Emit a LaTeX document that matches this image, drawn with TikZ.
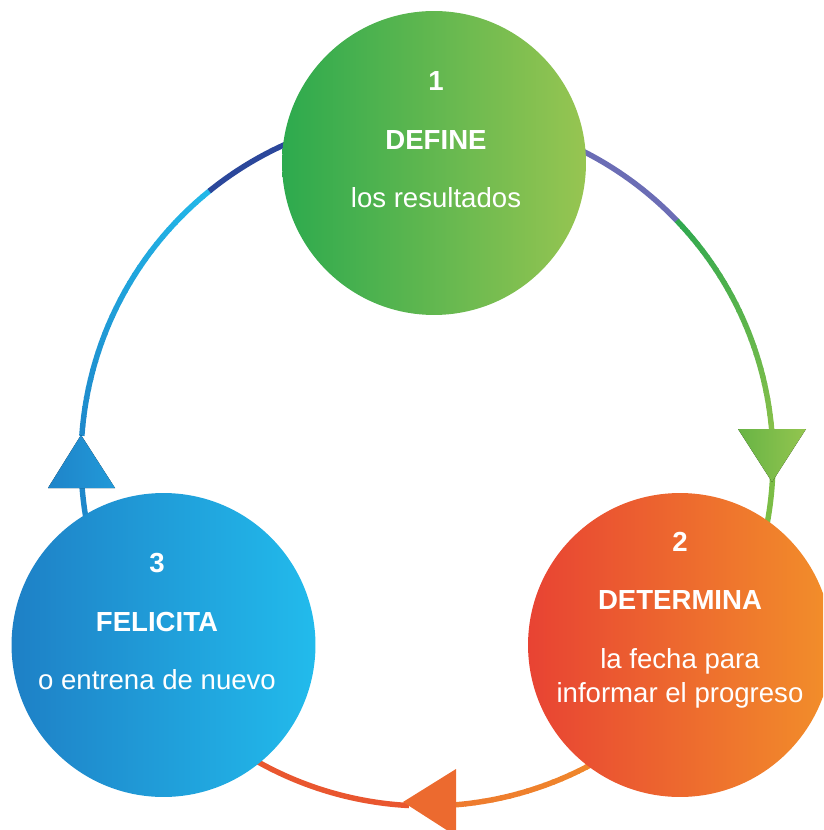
\documentclass[tikz,border=0pt]{standalone}
\usepackage{fontspec}
\setmainfont{Liberation Sans}

\definecolor{ringdark}{HTML}{2B479B}
\definecolor{ringpurple}{HTML}{6B6DB5}
\definecolor{ringgreenA}{HTML}{2FA84F}
\definecolor{ringgreenB}{HTML}{86C04A}
\definecolor{ringgreenC}{HTML}{7BBD45}
\definecolor{ringorangeA}{HTML}{F08A2A}
\definecolor{ringorangeB}{HTML}{EE7A2E}
\definecolor{ringred}{HTML}{E9562F}
\definecolor{ringblueA}{HTML}{1E88CB}
\definecolor{ringblueB}{HTML}{22B8E8}
\definecolor{tipgreenA}{HTML}{68B445}
\definecolor{tipgreenB}{HTML}{93C54F}
\definecolor{tipblueA}{HTML}{1E84C9}
\definecolor{tipblueB}{HTML}{2299D8}
\definecolor{tiporange}{HTML}{EC6A2F}
\definecolor{defineA}{HTML}{2DAA4E}
\definecolor{defineB}{HTML}{97C551}
\definecolor{determinaA}{HTML}{E84333}
\definecolor{determinaB}{HTML}{F28F2A}
\definecolor{felicitaA}{HTML}{1E80C6}
\definecolor{felicitaB}{HTML}{22BBEC}

\tikzset{
    ring/.style={line width=3.1pt, line cap=butt},
    stepcircle/.style={circle, minimum size=6.08cm, inner sep=0pt},
    stepnum/.style={text=white, anchor=base, font=\fontsize{15.7}{19}\selectfont\bfseries},
    steptitle/.style={text=white, anchor=base, font=\fontsize{15.7}{19}\selectfont\bfseries},
    steptext/.style={text=white, anchor=base, align=center, font=\fontsize{15.7}{19.3}\selectfont}
}

% arc piece of the ring, colour running from #3 to #4
\newcommand\ringpiece[5]{%
    \foreach \k in {1,...,#5}{
        \pgfmathsetmacro\angA{#1+(#2-#1)*(\k-1)/#5}
        \pgfmathsetmacro\angB{#1+(#2-#1)*\k/#5+0.2*sign(#2-#1)}
        \pgfmathsetmacro\mixp{100*(\k-0.5)/#5}
        \draw[ring, color=#4!\mixp!#3] (427,-460) ++(\angA:346) arc (\angA:\angB:346);
    }}

\begin{document}
\begin{tikzpicture}[x=0.02cm, y=0.02cm]
    \useasboundingbox (0,0) rectangle (823,-830);
    \clip (0,0) rectangle (823,-830);

    \draw[ring, ringpurple] (427,-460) ++(75:346) arc (75:43.7:346);
    \ringpiece{43.8}{5}{ringgreenA}{ringgreenB}{30}
    \draw[ring, ringgreenC] (427,-460) ++(-2:346) arc (-2:-25:346);
    \ringpiece{-55}{-85}{ringorangeA}{ringorangeB}{20}
    \draw[ring, ringred] (427,-460) ++(-93:346) arc (-93:-125:346);
    \draw[ring, ringblueA] (427,-460) ++(200:346) arc (200:184:346);
    \ringpiece{176}{128.9}{ringblueA}{ringblueB}{30}
    \draw[ring, ringdark] (427,-460) ++(129:346) arc (129:105:346);

    \fill[left color=tipgreenA, right color=tipgreenB] (738,-429) -- (806,-429) -- (772,-482) -- cycle;
    \fill[left color=tipblueA, right color=tipblueB] (48,-488) -- (115,-488) -- (81,-435) -- cycle;
    \fill[tiporange] (456,-769) -- (456,-836) -- (403,-802) -- cycle;

    \node[stepcircle, left color=defineA, right color=defineB] (define) at (434,-163) {};
    \node[stepcircle, left color=determinaA, right color=determinaB] (determina) at (680,-645) {};
    \node[stepcircle, left color=felicitaA, right color=felicitaB] (felicita) at (163.5,-645) {};

    \node[stepnum] (num1) at (436,-91) {1};
    \node[steptitle] (title1) at (436,-150) {DEFINE};
    \node[steptext] (text1) at (436,-208) {los resultados};

    \node[stepnum] (num2) at (680,-551) {2};
    \node[steptitle] (title2) at (680,-609) {DETERMINA};
    \node[steptext] (text2) at (680,-702) {la fecha para\\informar el progreso};

    \node[stepnum] (num3) at (157,-572) {3};
    \node[steptitle] (title3) at (157,-631) {FELICITA};
    \node[steptext] (text3) at (157,-689) {o entrena de nuevo};
\end{tikzpicture}
\end{document}
